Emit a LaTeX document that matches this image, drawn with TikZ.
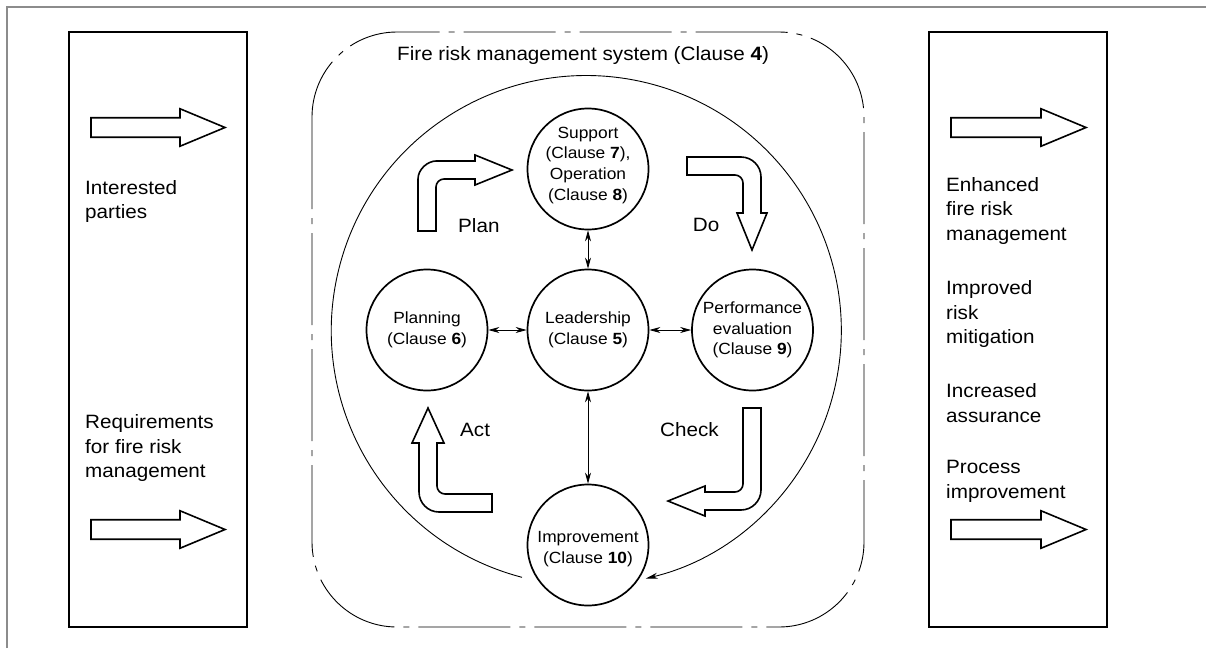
\documentclass[tikz,border=0pt]{standalone}
\usepackage{fontspec}
\setmainfont{Liberation Sans}[FakeStretch=1.07]
\usetikzlibrary{arrows.meta}
\begin{document}
\begin{tikzpicture}[x=1pt,y=-1pt,
  outerframe/.style={draw=black!45, line width=1.3pt},
  panel/.style={draw, line width=1.6pt},
  fat/.style={draw, line width=1.6pt, line join=miter},
  clause/.style={circle, draw, line width=1.7pt, minimum size=121pt, inner sep=0pt, align=center, font=\fontsize{16.2}{20.7}\selectfont},
  link/.style={line width=0.8pt, {Stealth[length=11pt,width=6pt]}-{Stealth[length=11pt,width=6pt]}},
  lab/.style={inner sep=0pt, anchor=north west, align=left, font=\fontsize{19.3}{24.6}\selectfont},
  system/.style={draw, line width=0.9pt, rounded corners=85pt, dash pattern=on 92pt off 9pt on 6pt off 9pt},
  cycleline/.style={line width=0.9pt, -{Stealth[length=12pt,width=6pt]}}
]
\useasboundingbox (0,0) rectangle (1206,648);
\draw[outerframe] (7,648) -- (7,7) -- (1206,7);

% side panels
\draw[panel] (69,32) rectangle (247,627);
\draw[panel] (929,32) rectangle (1107,627);

% side arrows
\draw[fat] (91,117.75) -- (180,117.75) -- (180,108.75) -- (225,127.5) -- (180,146.25) -- (180,137.25) -- (91,137.25) -- cycle;
\draw[fat] (91,519.75) -- (180,519.75) -- (180,510.75) -- (225,529.5) -- (180,548.25) -- (180,539.25) -- (91,539.25) -- cycle;
\draw[fat] (951,117.75) -- (1041,117.75) -- (1041,108.75) -- (1086,127.5) -- (1041,146.25) -- (1041,137.25) -- (951,137.25) -- cycle;
\draw[fat] (951,519.75) -- (1041,519.75) -- (1041,510.75) -- (1086,529.5) -- (1041,548.25) -- (1041,539.25) -- (951,539.25) -- cycle;

% side texts
\node[lab] (interested) at (85,180.2) {Interested\\parties};
\node[lab] (requirements) at (85,414.5) {Requirements\\for fire risk\\management};
\node[lab] (enhanced) at (946,177) {Enhanced\\fire risk\\management};
\node[lab] (improved) at (946,280.5) {Improved\\risk\\mitigation};
\node[lab] (increased) at (946,383.5) {Increased\\assurance};
\node[lab] (process) at (946,460) {Process\\improvement};

% system boundary
\draw[system] (312,32) rectangle (864,627);
\node[lab] (title) at (397,46.5) {Fire risk management system (Clause \textbf{4})};

% cycle arc
\node[circle, minimum size=510pt, inner sep=0pt, outer sep=0pt] (big) at (588,331) {};
\draw[cycleline] (big.255.4) arc[start angle=255.4, end angle=-76.5, radius=255pt];

% clause circles
\node[clause] (sup) at (588,169) {Support\\(Clause \textbf{7}),\\Operation\\(Clause \textbf{8})\rule[-11pt]{0pt}{1pt}};
\node[clause] (lead) at (588,330) {Leadership\\(Clause \textbf{5})};
\node[clause] (plan) at (427,330) {Planning\\(Clause \textbf{6})};
\node[clause] (perf) at (752.5,330) {Performance\\evaluation\\(Clause \textbf{9})};
\node[clause] (imp) at (588,545) {\rule{0pt}{20pt}Improvement\\(Clause \textbf{10})};

\draw[link] (plan) -- (lead);
\draw[link] (lead) -- (perf);
\draw[link] (sup) -- (lead);
\draw[link] (lead) -- (imp);

% PDCA bent arrows
\draw[fat] (418,231) -- (418,179) .. controls (418,169.1) and (427.9,161) .. (436,161) -- (475,161) -- (475,155) -- (512,170) -- (475,185) -- (475,179) -- (444,179) .. controls (439.6,179) and (436,182.6) .. (436,187) -- (436,231) -- cycle;
\draw[fat] (687,157) -- (741,157) .. controls (752,157) and (761,166) .. (761,177) -- (761,213) -- (767,213) -- (752,250) -- (737,213) -- (743,213) -- (743,183) .. controls (743,178.6) and (739.4,175) .. (735,175) -- (687,175) -- cycle;
\draw[fat] (492,494) -- (445,494) .. controls (440.6,494) and (437,490.4) .. (437,486) -- (437,443) -- (444,443) -- (428,408) -- (412,443) -- (419,443) -- (419,492) .. controls (419,503) and (428,512) .. (439,512) -- (492,512) -- cycle;
\draw[fat] (743,408) -- (761,408) -- (761,490) .. controls (761,501) and (752,510) .. (741,510) -- (705,510) -- (705,516) -- (668,501) -- (705,486) -- (705,492) -- (735,492) .. controls (739.4,492) and (743,488.4) .. (743,484) -- cycle;

\node[lab] (plantext) at (458,218.3) {Plan};
\node[lab] (dotext) at (692.7,218.3) {Do};
\node[lab] (acttext) at (460,423.5) {Act};
\node[lab] (checktext) at (660,422.7) {Check};
\end{tikzpicture}
\end{document}
